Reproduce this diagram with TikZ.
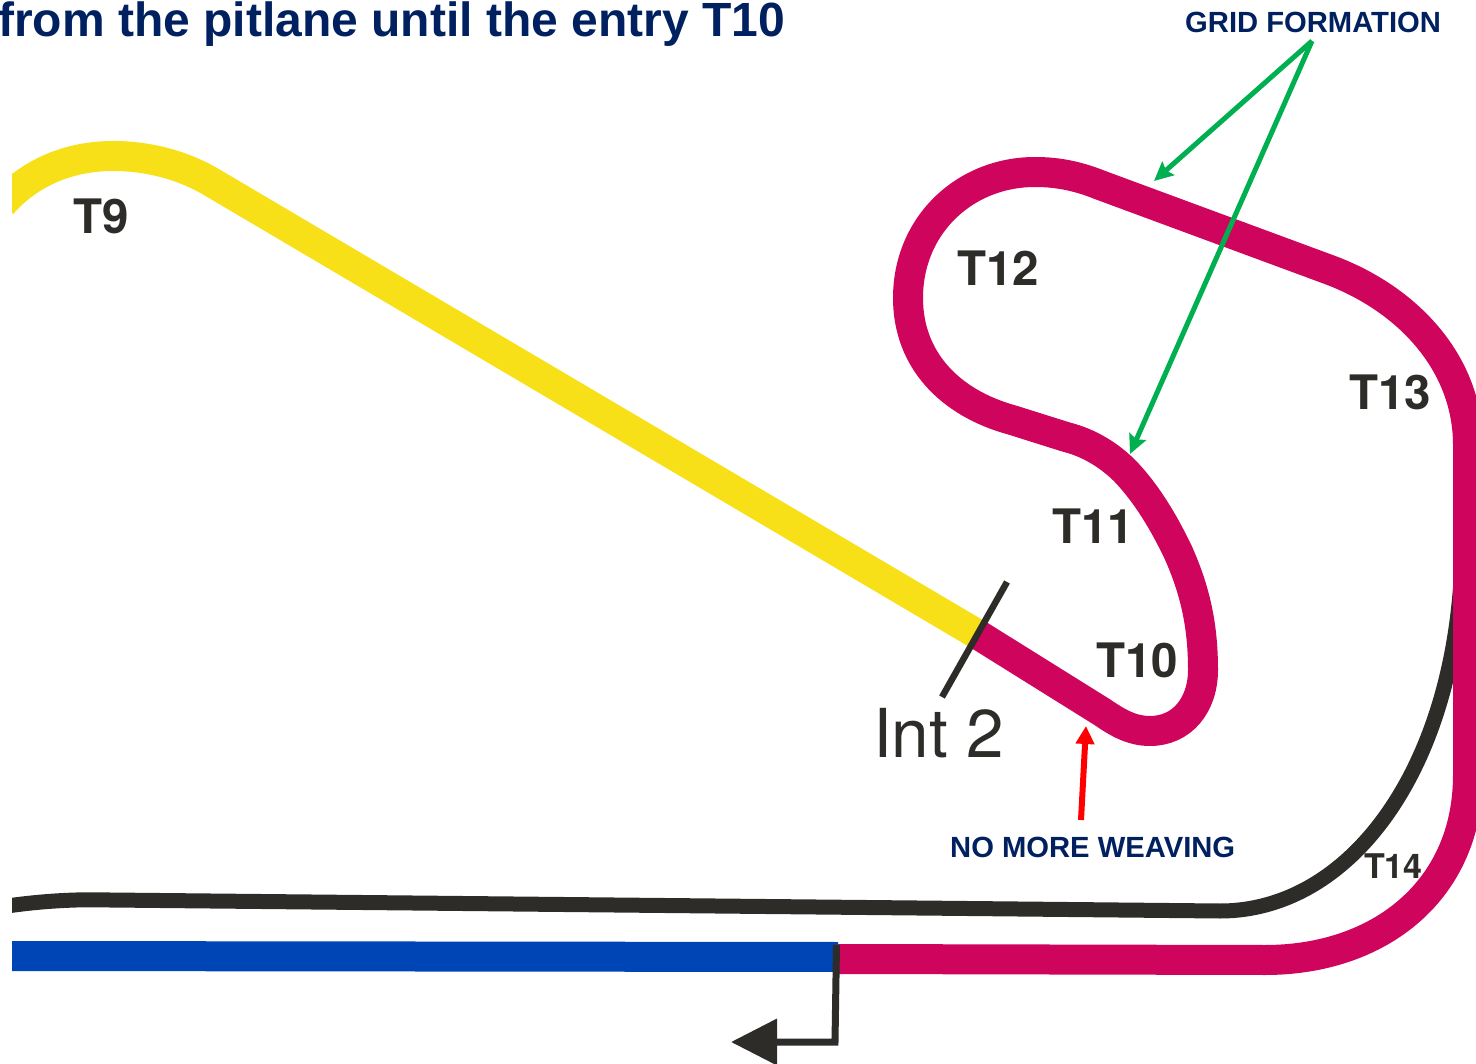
\documentclass[tikz,border=0pt]{standalone}
\usepackage{fontspec}
\setmainfont{Liberation Sans}
\newfontfamily\heros{TeX Gyre Heros}
\usetikzlibrary{arrows.meta}
\definecolor{trackyellow}{HTML}{F7E017}
\definecolor{trackred}{HTML}{CF045C}
\definecolor{trackblue}{HTML}{0045B5}
\definecolor{ink}{HTML}{2D2C28}
\definecolor{navy}{HTML}{002060}
\definecolor{grn}{HTML}{00B050}
\tikzset{
  track/.style={line width=30pt,line cap=butt,line join=round},
  turn/.style={font=\heros\bfseries\fontsize{47.5}{47.5}\selectfont,text=ink,inner sep=0pt},
  callout/.style={font=\bfseries\fontsize{29.2}{29.2}\selectfont,text=navy,inner sep=0pt},
  garrow/.style={draw=grn,line width=5pt,-{Stealth[length=19pt,width=18pt,inset=3pt]}},
  rarrow/.style={draw=red,line width=6pt,-{Triangle[length=18pt,width=18pt]}},
}
\begin{document}
\begin{tikzpicture}[x=1pt,y=-1pt]
\useasboundingbox (0,0) rectangle (1476,1064);
\begin{scope}
\clip (12,0) rectangle (1476,1064);
% pit lane
\draw[ink,line width=15pt] (0,907) .. controls (40,901) and (75,899) .. (110,900)
  -- (1220,911) .. controls (1350,911) and (1455,770) .. (1462,560);
% yellow sector
\draw[track,trackyellow] (2,204) .. controls (30,172) and (70,156) .. (113,156)
  .. controls (150,156) and (185,166) .. (213,183) -- (977,634);
% blue sector
\draw[track,trackblue] (0,956) -- (838,957);
% red sector
\draw[track,trackred] (977,634) -- (1102,712)
  .. controls (1118,723) and (1132,731) .. (1150,731)
  .. controls (1182,731) and (1203,705) .. (1203,670)
  .. controls (1203,625) and (1195,590) .. (1178,552)
  .. controls (1165,525) and (1148,495) .. (1125,471)
  .. controls (1110,456) and (1090,443) .. (1066,437)
  -- (1012,420)
  .. controls (950,403) and (908,360) .. (908,298)
  .. controls (908,225) and (965,172) .. (1035,172)
  .. controls (1060,172) and (1080,177) .. (1100,185)
  -- (1330,270)
  .. controls (1410,300) and (1468,365) .. (1468,445)
  -- (1468,775)
  .. controls (1468,890) and (1380,960) .. (1265,960)
  -- (838,959);
\end{scope}
% labels
\node[font=\bfseries\fontsize{48}{48}\selectfont,text=navy,anchor=base west,inner sep=0pt] (title) at (-2,37) {from the pitlane until the entry T10};
\node[turn,anchor=base west] (t9) at (73,234) {T9};
\node[turn,anchor=base west] (t12) at (957,286) {T12};
\node[turn,anchor=base west] (t13) at (1349,410) {T13};
\node[turn,anchor=base west] (t11) at (1052,543) {T11};
\node[turn,anchor=base west] (t10) at (1096,677) {T10};
\node[font=\heros\bfseries\fontsize{34}{34}\selectfont,text=ink,anchor=base west,inner sep=0pt] (t14) at (1364,878) {T14};
\node[font=\heros\fontsize{67.5}{67.5}\selectfont,text=ink,anchor=base west,inner sep=0pt] (int2) at (873,757) {Int 2};
\node[callout,anchor=base west] (grid) at (1185,33) {GRID FORMATION};
\node[callout,anchor=base west] (weave) at (950,857) {NO MORE WEAVING};
% sector line
\coordinate (tickA) at (1007,582);
\coordinate (tickB) at (942,697);
\draw[ink,line width=6.5pt] (tickA) -- (tickB);
% pit exit
\coordinate (pitA) at (836.5,945);
\coordinate (pitB) at (835,1042);
\coordinate (pitC) at (731,1042);
\draw[ink,line width=7pt,line join=miter,-{Triangle[length=46pt,width=45pt]}] (pitA) -- (pitB) -- (pitC);
% callout arrows
\coordinate (gridfoot) at (1312,41);
\coordinate (gridA) at (1154,181);
\coordinate (gridB) at (1130,454);
\draw[garrow] (gridfoot) -- (gridA);
\draw[garrow] (gridfoot) -- (gridB);
\coordinate (weavetop) at (1086,726);
\coordinate (weavefoot) at (1081,820);
\draw[rarrow] (weavefoot) -- (weavetop);
\end{tikzpicture}
\end{document}
